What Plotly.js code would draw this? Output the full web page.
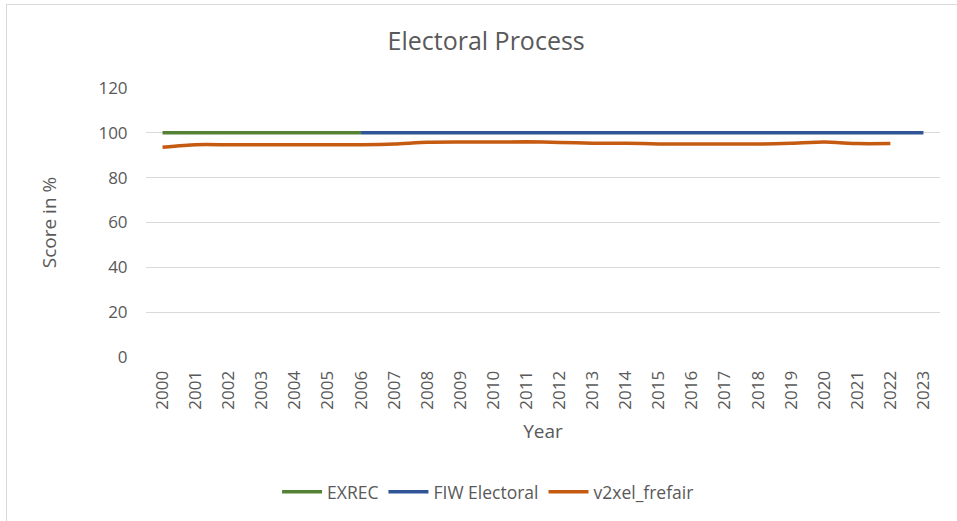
<!DOCTYPE html>
<html>
<head>
<meta charset="utf-8">
<script src="https://cdn.plot.ly/plotly-3.0.1.min.js"></script>
<style>
html,body{margin:0;padding:0;background:#fff;}
#wrap{position:relative;width:957px;height:521px;overflow:hidden;}
#chart{position:absolute;left:0;top:0;width:957px;height:521px;}
#frame{position:absolute;left:6px;top:4px;width:1000px;height:600px;border-left:1px solid #d9d9d9;border-top:1px solid #d9d9d9;pointer-events:none;}
</style>
</head>
<body>
<div id="wrap"><div id="chart"></div><div id="frame"></div></div>
<script>
const years = ["2000","2001","2002","2003","2004","2005","2006","2007","2008","2009","2010","2011","2012","2013","2014","2015","2016","2017","2018","2019","2020","2021","2022","2023"];
const exrecYears = ["2000","2001","2002","2003","2004","2005","2006"];
const exrec = [100,100,100,100,100,100,100];
const fiwYears = ["2006","2007","2008","2009","2010","2011","2012","2013","2014","2015","2016","2017","2018","2019","2020","2021","2022","2023"];
const fiw = [100,100,100,100,100,100,100,100,100,100,100,100,100,100,100,100,100,100];
const frefairYears = ["2000","2001","2002","2003","2004","2005","2006","2007","2008","2009","2010","2011","2012","2013","2014","2015","2016","2017","2018","2019","2020","2021","2022"];
const frefair = [93.6,94.7,94.7,94.7,94.7,94.7,94.7,95.0,95.8,95.9,95.9,96.0,95.7,95.4,95.4,95.0,95.0,95.0,95.0,95.3,95.9,95.2,95.2];

const font = "Open Sans, Liberation Sans, sans-serif";
const grey = "#595959";

const traces = [
  {x: exrecYears, y: exrec, name: "EXREC", type: "scatter", mode: "lines",
   line: {color: "#548235", width: 3.5}},
  {x: fiwYears, y: fiw, name: "FIW Electoral", type: "scatter", mode: "lines",
   line: {color: "#2F5597", width: 3.5}},
  {x: frefairYears, y: frefair, name: "v2xel_frefair", type: "scatter", mode: "lines",
   line: {color: "#C55A11", width: 3.5, shape: "spline", smoothing: 0.6}}
];

const layout = {
  width: 957, height: 521,
  margin: {l: 146, r: 17, t: 88, b: 164},
  paper_bgcolor: "#fff", plot_bgcolor: "#fff",
  font: {family: font, color: grey, size: 16},
  title: {text: "Electoral Process", font: {family: font, size: 25, color: grey},
          x: 0.508, xanchor: "center", y: 0.92, yanchor: "middle"},
  xaxis: {
    type: "category", categoryorder: "array", categoryarray: years,
    range: [-0.5, 23.5], tickangle: -90, showgrid: false, zeroline: false,
    showline: false, ticks: "outside", ticklen: 6, tickcolor: "rgba(0,0,0,0)",
    tickfont: {size: 17, color: grey},
    title: {text: "Year", font: {size: 19, color: grey}, standoff: 16}
  },
  yaxis: {
    range: [0, 120], dtick: 20, gridcolor: "#d9d9d9", gridwidth: 1,
    zeroline: false, showline: false, ticks: "outside", ticklen: 14, tickcolor: "rgba(0,0,0,0)",
    tickfont: {size: 17, color: grey},
    title: {text: "Score in %", font: {size: 19, color: grey}, standoff: 36}
  },
  showlegend: true,
  legend: {orientation: "h", xref: "container", yref: "container", x: 0.51, xanchor: "center",
           y: 0.056, yanchor: "middle",
           font: {size: 17.5, color: grey}, itemwidth: 40, traceorder: "normal"}
};

Plotly.newPlot("chart", traces, layout, {displayModeBar: false, staticPlot: true});
</script>
</body>
</html>
